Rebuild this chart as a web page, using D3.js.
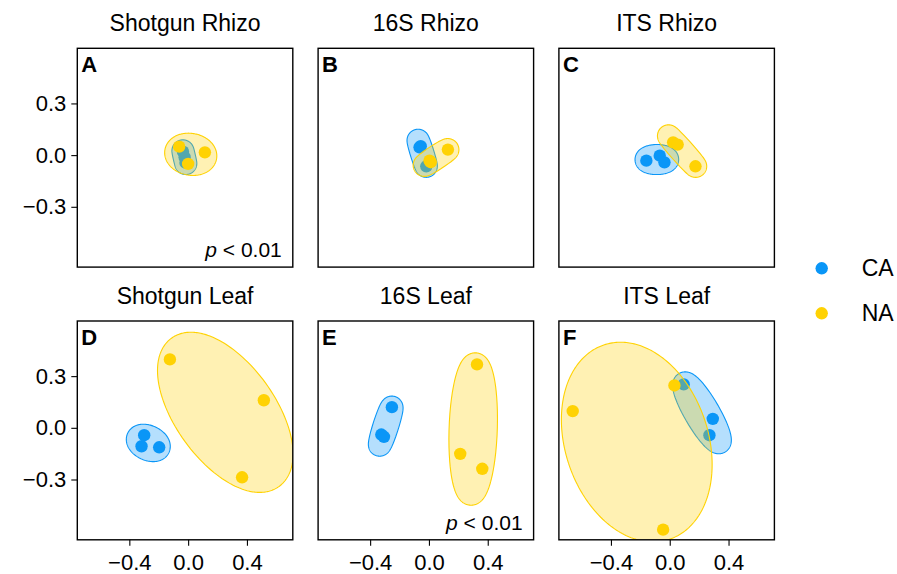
<!DOCTYPE html>
<html>
<head>
<meta charset="utf-8">
<script src="https://cdn.jsdelivr.net/npm/d3@7"></script>
<style>
  body { margin: 0; background: #fff; }
  text { font-family: "Liberation Sans", Arial, sans-serif; fill: #000; }
  .axis text { font-size: 22px; }
  .axis line { stroke: #000; stroke-width: 1.1px; }
  .axis path { display: none; }
</style>
</head>
<body>
<div id="graphic"></div>
<script>
// facet titles and tags
var panelTitles = ["Shotgun Rhizo", "16S Rhizo", "ITS Rhizo", "Shotgun Leaf", "16S Leaf", "ITS Leaf"];
var panelTags = ["A", "B", "C", "D", "E", "F"];
var pValues = ["0.01", "", "", "", "0.01", ""];

var groups = ["CA", "NA"];

// ordination scores [x, y] per panel
var caPoints = [
  [[-0.035, 0.020], [-0.024, -0.012], [-0.018, -0.044]],
  [[-0.064, 0.045], [-0.056, 0.052], [-0.018, -0.065]],
  [[-0.159, -0.032], [-0.068, -0.003], [-0.036, -0.042]],
  [[-0.299, -0.043], [-0.317, -0.107], [-0.197, -0.113]],
  [[-0.252, 0.120], [-0.324, -0.039], [-0.306, -0.052]],
  [[0.095, 0.252], [0.293, 0.052], [0.270, -0.043]]
];
var naPoints = [
  [[-0.061, 0.049], [0.114, 0.016], [0.000, -0.051]],
  [[0.004, -0.032], [0.012, -0.041], [0.129, 0.032]],
  [[0.023, 0.074], [0.054, 0.061], [0.175, -0.065]],
  [[-0.124, 0.397], [0.515, 0.160], [0.367, -0.287]],
  [[0.327, 0.368], [0.213, -0.151], [0.363, -0.238]],
  [[-0.660, 0.097], [0.032, 0.246], [-0.045, -0.591]]
];

var xTicks = [-0.4, 0.0, 0.4];
var yTicks = [-0.3, 0.0, 0.3];

var colours = { CA: "#0A96F7", NA: "#FFD203" };

var width = 897, height = 574;
var panelW = 215.5, panelH = 218.8;
var panelLeft = [77.3, 318.1, 558.9];
var panelTop = [48.3, 321];
var expand = 11; // ellipse padding in px

var x = d3.scaleLinear().domain([-0.754, 0.712]).range([0, panelW]);
var y = d3.scaleLinear().domain([-0.65, 0.62]).range([panelH, 0]);

var svg = d3.select("#graphic").append("svg")
  .attr("width", width)
  .attr("height", height)
  .style("background-color", "#fff");

var defs = svg.append("defs");

// minimum enclosing ellipse of three points (Steiner circumellipse), grown by expand px
function markEllipse(pts, pad) {
  var g = [d3.mean(pts, p => p[0]), d3.mean(pts, p => p[1])];
  var u = [pts[0][0] - g[0], pts[0][1] - g[1]];
  var v = [(pts[2][0] - pts[1][0]) / Math.sqrt(3), (pts[2][1] - pts[1][1]) / Math.sqrt(3)];
  var out = [];
  for (var i = 0; i < 240; i++) {
    var a = i / 240 * 2 * Math.PI, nx = Math.cos(a), ny = Math.sin(a);
    var c0 = u[0] * nx + u[1] * ny, c1 = v[0] * nx + v[1] * ny;
    var len = Math.hypot(c0, c1) || 1;
    c0 /= len; c1 /= len;
    out.push([g[0] + u[0] * c0 + v[0] * c1 + pad * nx, g[1] + u[1] * c0 + v[1] * c1 + pad * ny]);
  }
  return out;
}

var closedLine = d3.line().curve(d3.curveLinearClosed);

panelTitles.forEach(function(title, i) {
  var col = i % 3, row = Math.floor(i / 3);
  var panel = svg.append("g")
    .attr("transform", "translate(" + panelLeft[col] + "," + panelTop[row] + ")");

  defs.append("clipPath").attr("id", "clip" + i)
    .append("rect").attr("width", panelW).attr("height", panelH);

  var plot = panel.append("g").attr("clip-path", "url(#clip" + i + ")");

  var sets = [["CA", caPoints[i]], ["NA", naPoints[i]]];
  sets.forEach(function(s) {
    var px = s[1].map(d => [x(d[0]), y(d[1])]);
    plot.append("path")
      .attr("d", closedLine(markEllipse(px, expand)))
      .attr("fill", colours[s[0]])
      .attr("fill-opacity", 0.3)
      .attr("stroke", colours[s[0]])
      .attr("stroke-width", 1.1);
    plot.selectAll("circle." + s[0])
      .data(s[1])
      .join("circle")
      .attr("class", s[0])
      .attr("cx", d => x(d[0]))
      .attr("cy", d => y(d[1]))
      .attr("r", 6.2)
      .attr("fill", colours[s[0]]);
  });

  // border
  panel.append("rect")
    .attr("width", panelW)
    .attr("height", panelH)
    .attr("fill", "none")
    .attr("stroke", "#000")
    .attr("stroke-width", 1.4);

  // facet title
  panel.append("text")
    .attr("x", panelW / 2)
    .attr("y", -17)
    .attr("text-anchor", "middle")
    .style("font-size", "23px")
    .text(title);

  // tag
  panel.append("text")
    .attr("x", 4)
    .attr("y", 23.5)
    .style("font-size", "22px")
    .style("font-weight", "bold")
    .text(panelTags[i]);

  if (pValues[i]) {
    var pt = panel.append("text")
      .attr("x", panelW - 11)
      .attr("y", panelH - 10)
      .attr("text-anchor", "end")
      .style("font-size", "21px");
    pt.append("tspan").style("font-style", "italic").text("p");
    pt.append("tspan").text(" < " + pValues[i]);
  }

  if (col === 0) {
    panel.append("g")
      .attr("class", "axis")
      .call(d3.axisLeft(y).tickValues(yTicks).tickSize(6).tickPadding(5).tickFormat(d3.format(".1f")));
  }
  if (row === 1) {
    panel.append("g")
      .attr("class", "axis")
      .attr("transform", "translate(0," + panelH + ")")
      .call(d3.axisBottom(x).tickValues(xTicks).tickSize(6).tickPadding(9).tickFormat(d3.format(".1f")));
  }
});

// legend
var legend = svg.append("g").attr("transform", "translate(821.7,268.3)");
var items = legend.selectAll("g")
  .data(groups)
  .join("g")
  .attr("transform", (d, i) => "translate(0," + i * 45 + ")");
items.append("circle").attr("r", 6.2).attr("fill", d => colours[d]);
items.append("text")
  .attr("x", 40)
  .attr("y", 8)
  .style("font-size", "23px")
  .text(d => d);
</script>
</body>
</html>
